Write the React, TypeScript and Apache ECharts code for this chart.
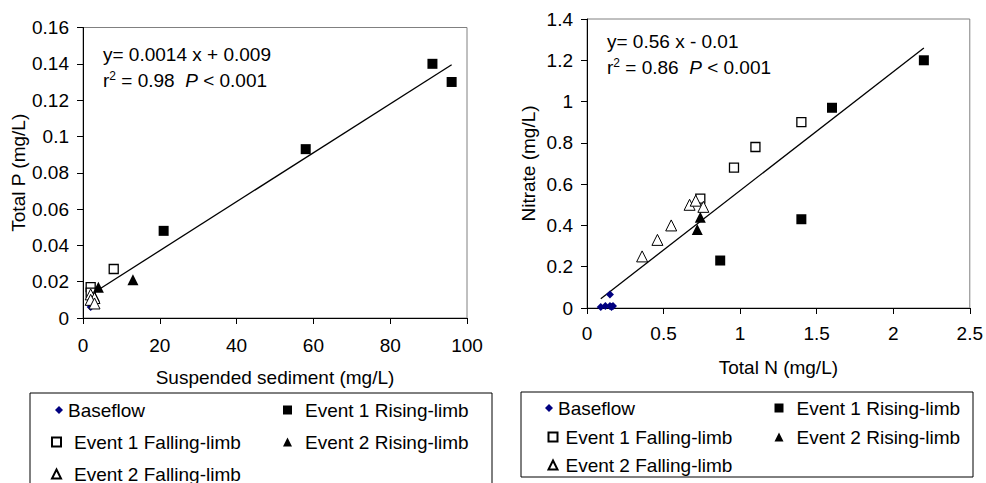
import React, { useEffect, useRef } from "react";
import * as echarts from "echarts";

// ---- Left panel: Suspended sediment vs Total P ----
const ssBaseflow = [[2, 0.006], [2, 0.008], [2.5, 0.009], [3, 0.01]];
const ssE1Rising = [[21, 0.048], [58, 0.093], [91, 0.14], [96, 0.13]];
const ssE1Falling = [[8, 0.027], [2, 0.017], [2, 0.014]];
const ssE2Rising = [[13, 0.021], [4, 0.017], [3, 0.012]];
const ssE2Falling = [[2, 0.013], [3, 0.011], [2, 0.01], [3, 0.008]];
const ssFit = [[3, 0.0142], [96, 0.1395]];

// ---- Right panel: Total N vs Nitrate ----
const tnBaseflow = [[0.15, 0.065], [0.09, 0.005], [0.12, 0.01], [0.15, 0.01], [0.17, 0.01], [0.16, 0.005]];
const tnE1Rising = [[2.2, 1.2], [1.6, 0.97], [1.4, 0.43], [0.87, 0.23]];
const tnE1Falling = [[1.4, 0.9], [1.1, 0.78], [0.96, 0.68], [0.74, 0.53]];
const tnE2Rising = [[0.74, 0.44], [0.72, 0.38]];
const tnE2Falling = [[0.36, 0.25], [0.46, 0.33], [0.55, 0.4], [0.67, 0.5], [0.71, 0.52], [0.76, 0.49]];
const tnFit = [[0.09, 0.045], [2.2, 1.26]];

const legendNames = [
  "Baseflow",
  "Event 1 Rising-limb",
  "Event 1 Falling-limb",
  "Event 2 Rising-limb",
  "Event 2 Falling-limb",
];

const FONT = "Liberation Sans, Arial, sans-serif";

export default function App() {
  const ref = useRef<HTMLDivElement>(null);
  useEffect(() => {
    if (!ref.current) return;
    const chart = echarts.init(ref.current, null, { renderer: "svg" });

    const mkSeries = (idx: number, d: any) => [
      {
        name: "fit",
        type: "line",
        xAxisIndex: idx,
        yAxisIndex: idx,
        data: d.fit,
        showSymbol: false,
        symbol: "none",
        lineStyle: { color: "#000", width: 1.3 },
        z: 1,
        silent: true,
      },
      {
        name: legendNames[0],
        type: "scatter",
        xAxisIndex: idx,
        yAxisIndex: idx,
        data: d.base,
        symbol: "diamond",
        symbolSize: 8,
        itemStyle: { color: "#000080", opacity: 1 },
        z: 3,
      },
      {
        name: legendNames[1],
        type: "scatter",
        xAxisIndex: idx,
        yAxisIndex: idx,
        data: d.e1r,
        symbol: "rect",
        symbolSize: 10,
        itemStyle: { color: "#000", opacity: 1 },
        z: 3,
      },
      {
        name: legendNames[2],
        type: "scatter",
        xAxisIndex: idx,
        yAxisIndex: idx,
        data: d.e1f,
        symbol: "rect",
        symbolSize: 9,
        itemStyle: { color: "#fff", borderColor: "#000", borderWidth: 1.3, opacity: 1 },
        z: 3,
      },
      {
        name: legendNames[3],
        type: "scatter",
        xAxisIndex: idx,
        yAxisIndex: idx,
        data: d.e2r,
        symbol: "triangle",
        symbolSize: 11,
        itemStyle: { color: "#000", opacity: 1 },
        z: 3,
      },
      {
        name: legendNames[4],
        type: "scatter",
        xAxisIndex: idx,
        yAxisIndex: idx,
        data: d.e2f,
        symbol: "triangle",
        symbolSize: 11,
        itemStyle: { color: "#fff", borderColor: "#000", borderWidth: 1, opacity: 1 },
        z: 3,
      },
    ];

    const axisCommon = {
      axisLine: { show: true, onZero: false, lineStyle: { color: "#000", width: 1 } },
      axisTick: { show: true, inside: false, length: 6, lineStyle: { color: "#000" } },
      splitLine: { show: false },
      nameTextStyle: { color: "#000", fontSize: 19, fontFamily: FONT },
    };

    const mkLegend = (name: string, left: number, top: number, pad: number, iconSize: number) => ({
      orient: "vertical",
      left,
      top,
      padding: 0,
      itemWidth: iconSize,
      itemHeight: iconSize,
      selectedMode: false,
      data: [name],
      textStyle: { color: "#000", fontSize: 19, fontFamily: FONT, padding: [0, 0, 0, pad] },
    });

    // left panel legend rows (centres ~410, 442, 474); right panel (~408, 437, 465)
    const legends = [
      mkLegend(legendNames[0], 55, 400.5, 0, 8),
      mkLegend(legendNames[2], 51, 432.5, 8, 9),
      mkLegend(legendNames[4], 51, 464.5, 8, 9),
      mkLegend(legendNames[1], 283, 400.5, 8, 9),
      mkLegend(legendNames[3], 283, 432.5, 8, 9),
      mkLegend(legendNames[0], 545, 398.5, 0, 8),
      mkLegend(legendNames[2], 547.5, 427.5, 3, 9),
      mkLegend(legendNames[4], 547.5, 455.5, 3, 9),
      mkLegend(legendNames[1], 774.5, 398.5, 8, 9),
      mkLegend(legendNames[3], 774.5, 427.5, 8, 9),
    ];

    const richR2 = {
      sup: { fontSize: 12, fontFamily: FONT, fill: "#000", verticalAlign: "top", padding: [0, 0, 8, 0] },
      i: { fontSize: 19, fontFamily: FONT, fontStyle: "italic", fill: "#000" },
    };

    const option: any = {
      animation: false,
      textStyle: { fontFamily: FONT },
      grid: [
        { left: 83, top: 27.5, width: 384, height: 290.5, show: true, borderColor: "#808080", borderWidth: 1, backgroundColor: "transparent" },
        { left: 587, top: 19, width: 385, height: 289, show: true, borderColor: "#808080", borderWidth: 1, backgroundColor: "transparent" },
      ],
      xAxis: [
        {
          ...axisCommon,
          gridIndex: 0,
          type: "value",
          min: 0,
          max: 100,
          interval: 20,
          name: "Suspended sediment (mg/L)",
          nameLocation: "middle",
          nameGap: 50,
          axisLabel: { color: "#000", fontSize: 19, fontFamily: FONT, margin: 18 },
        },
        {
          ...axisCommon,
          gridIndex: 1,
          type: "value",
          min: 0,
          max: 2.5,
          interval: 0.5,
          name: "Total N (mg/L)",
          nameLocation: "middle",
          nameGap: 50,
          axisLabel: { color: "#000", fontSize: 19, fontFamily: FONT, margin: 16 },
        },
      ],
      yAxis: [
        {
          ...axisCommon,
          gridIndex: 0,
          type: "value",
          min: 0,
          max: 0.16,
          interval: 0.02,
          name: "Total P (mg/L)",
          nameLocation: "middle",
          nameGap: 53,
          axisLabel: { color: "#000", fontSize: 19, fontFamily: FONT, margin: 14 },
        },
        {
          ...axisCommon,
          gridIndex: 1,
          type: "value",
          min: 0,
          max: 1.4,
          interval: 0.2,
          name: "Nitrate (mg/L)",
          nameLocation: "middle",
          nameGap: 49,
          axisLabel: { color: "#000", fontSize: 19, fontFamily: FONT, margin: 14 },
        },
      ],
      legend: legends,
      graphic: [
        { type: "rect", shape: { x: 30, y: 393, width: 462, height: 100 }, style: { fill: "none", stroke: "#000", lineWidth: 1 }, z: -1 },
        { type: "rect", shape: { x: 521, y: 392, width: 452, height: 85 }, style: { fill: "none", stroke: "#000", lineWidth: 1 }, z: -1 },
        {
          type: "text",
          left: 103,
          top: 45,
          style: { text: "y= 0.0014 x + 0.009", fontSize: 19, fontFamily: FONT, fill: "#000" },
        },
        {
          type: "text",
          left: 103,
          top: 70,
          style: { text: "r{sup|2} = 0.98  {i|P} < 0.001", fontSize: 19, fontFamily: FONT, fill: "#000", rich: richR2 },
        },
        {
          type: "text",
          left: 607,
          top: 32,
          style: { text: "y= 0.56 x - 0.01", fontSize: 19, fontFamily: FONT, fill: "#000" },
        },
        {
          type: "text",
          left: 607,
          top: 57,
          style: { text: "r{sup|2} = 0.86  {i|P} < 0.001", fontSize: 19, fontFamily: FONT, fill: "#000", rich: richR2 },
        },
      ],
      series: [
        ...mkSeries(0, { fit: ssFit, base: ssBaseflow, e1r: ssE1Rising, e1f: ssE1Falling, e2r: ssE2Rising, e2f: ssE2Falling }),
        ...mkSeries(1, { fit: tnFit, base: tnBaseflow, e1r: tnE1Rising, e1f: tnE1Falling, e2r: tnE2Rising, e2f: tnE2Falling }),
      ],
    };
    chart.setOption(option);
    return () => chart.dispose();
  }, []);
  return (
    <div
      ref={ref}
      style={{ position: "fixed", left: 0, top: 0, width: 986, height: 483, background: "#fff" }}
    />
  );
}
